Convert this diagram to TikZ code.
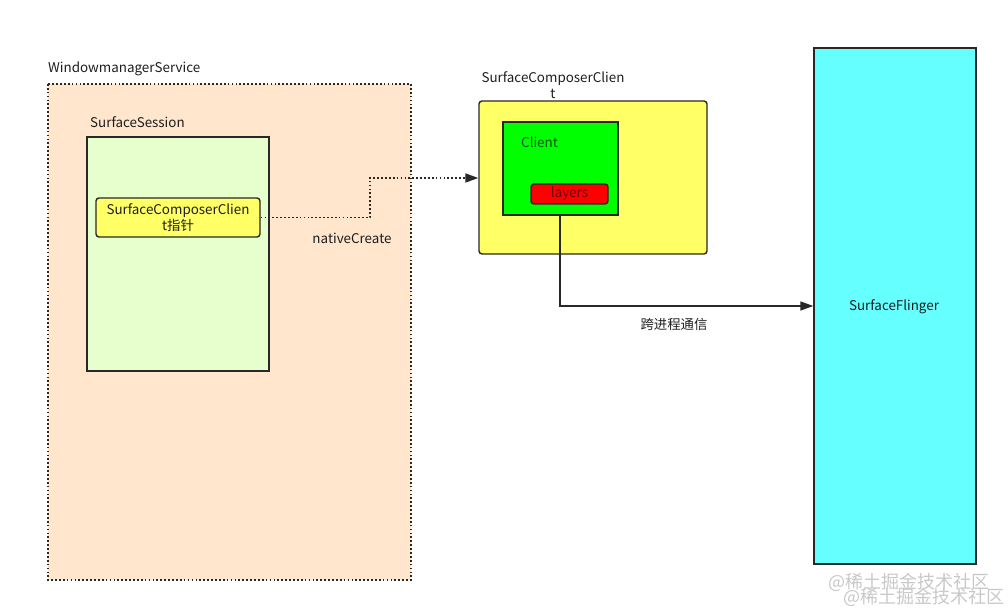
\documentclass[tikz,border=0pt]{standalone}
\usepackage{fontspec}
\setmainfont{Noto Sans CJK SC}
\usetikzlibrary{arrows.meta}
\definecolor{peach}{RGB}{255,230,204}
\definecolor{lgreen}{RGB}{230,255,204}
\definecolor{yel}{RGB}{255,255,102}
\definecolor{grn}{RGB}{0,255,0}
\definecolor{rd}{RGB}{255,0,0}
\definecolor{cyn}{RGB}{102,255,255}
\definecolor{edge}{RGB}{40,40,40}
\definecolor{txt}{RGB}{30,30,30}
\tikzset{
  lbl/.style={font=\fontsize{13.4}{15.5}\selectfont, text=txt, inner sep=0pt},
  box/.style={draw=edge, line width=1.4pt, inner sep=0pt},
  dotline/.style={draw=edge, line width=1.7pt, dash pattern=on 1.7pt off 2.2pt},
  tip/.style={-{Triangle[length=13pt,width=9pt]}}
}
\begin{document}
\begin{tikzpicture}[x=1pt,y=-1pt]
\useasboundingbox (0,0) rectangle (1008,612);
% WindowmanagerService
\path[fill=peach] (48,84) rectangle (411,580);
\draw[dotline] (48,84) rectangle (411,580);
\node[lbl, anchor=west] (wmsl) at (48,69) {WindowmanagerService};
% SurfaceSession
\node[box, fill=lgreen, minimum width=182pt, minimum height=234pt] (ss) at (178,254) {};
\node[lbl, anchor=west] (ssl) at (90,122) {SurfaceSession};
\node[box, fill=yel, rounded corners=3pt, minimum width=164pt, minimum height=39pt, align=center, font=\fontsize{13.4}{15.5}\selectfont, text=txt] (ptr) at (178,217.5) {SurfaceComposerClien\\t指针};
% SurfaceComposerClient
\node[box, fill=yel, rounded corners=3pt, minimum width=228pt, minimum height=153pt] (scc) at (593,177.5) {};
\node[lbl, align=center] (sccl) at (553,85) {SurfaceComposerClien\\t};
\node[box, fill=grn, minimum width=115pt, minimum height=93pt] (cl) at (560.5,168.5) {};
\node[lbl, anchor=west, text={rgb,255:red,0;green,90;blue,0}] (cll) at (521,142) {Client};
\node[box, fill=rd, rounded corners=3pt, minimum width=77pt, minimum height=20pt, font=\fontsize{13.4}{15.5}\selectfont, text={rgb,255:red,110;green,0;blue,0}] (ly) at (569.5,194) {layers};
% SurfaceFlinger
\node[box, fill=cyn, minimum width=162pt, minimum height=516pt] (sf) at (895,306) {};
\node[lbl] (sfl) at (894,307) {SurfaceFlinger};
% connectors
\coordinate (c1) at (370,217.5);
\coordinate (c2) at (370,178);
\draw[dotline, tip] (ptr.east) -- (c1) -- (c2) -- (scc.west |- c2);
\node[lbl] (nc) at (352,238) {nativeCreate};
\coordinate (d1) at (560,306);
\draw[draw=edge, line width=1.4pt, tip] (cl.south -| d1) -- (d1) -- (sf.west |- d1);
\node[lbl] (ipc) at (674,324) {跨进程通信};
% watermark
\node[lbl, text={rgb,255:red,200;green,200;blue,200}, font=\fontsize{18}{19}\selectfont, anchor=west] (wm1) at (828,582) {@稀土掘金技术社区};
\node[lbl, text={rgb,255:red,200;green,200;blue,200}, font=\fontsize{18}{19}\selectfont, anchor=west] (wm2) at (843,597) {@稀土掘金技术社区};
\end{tikzpicture}
\end{document}
